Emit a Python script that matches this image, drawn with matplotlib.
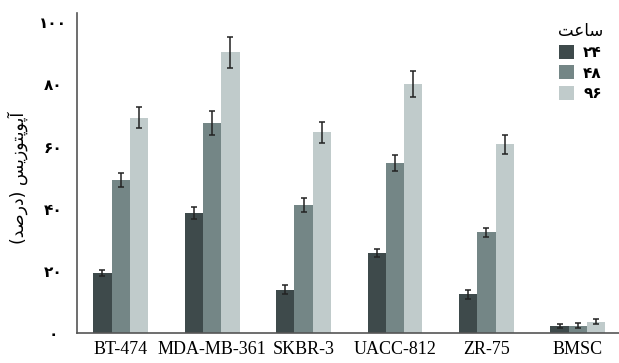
import numpy as np
import matplotlib
matplotlib.use('Agg')
import matplotlib.pyplot as plt

# cell lines and apoptosis (%) at 24 / 48 / 96 h
cells = ['BT-474', 'MDA-MB-361', 'SKBR-3', 'UACC-812', 'ZR-75', 'BMSC']
h24 = [19.3, 38.7, 14.0, 25.8, 12.5, 2.2]
h48 = [49.2, 67.6, 41.2, 54.6, 32.4, 2.4]
h96 = [69.3, 90.4, 64.6, 80.1, 60.7, 3.6]
e24 = [0.9, 2.0, 1.3, 1.4, 1.5, 0.7]
e48 = [2.3, 3.9, 2.4, 2.6, 1.4, 0.7]
e96 = [3.4, 5.0, 3.3, 4.2, 3.0, 0.8]

# Persian labels (written in visual order with presentation forms)
hours = ['\u06F2\u06F4', '\u06F4\u06F8', '\u06F9\u06F6']
yticks = [0, 20, 40, 60, 80, 100]
yticklabels = ['\u06F0', '\u06F2\u06F0', '\u06F4\u06F0', '\u06F6\u06F0', '\u06F8\u06F0', '\u06F1\u06F0\u06F0']
legend_title = '\uFE96\uFECB\uFE8E\uFEB3'
ylabel = ('(\uFEAA\uFEBB\uFEAD\uFEA9) '
          '\uFEB2\uFBFE\uFEAF\uFEEE\uFE98\uFB58\uFEEE\uFB58\uFE81')

colors = ['#3e4a4b', '#748686', '#c0cbcb']

fig = plt.figure(figsize=(6.19, 3.63), dpi=100)
ax = fig.add_axes([0.124, 0.0826, 0.876, 0.8815])

x = np.arange(len(cells))
w = 0.2
series = [(h24, e24), (h48, e48), (h96, e96)]
for i, (vals, errs) in enumerate(series):
    ax.bar(x + (i - 1) * w, vals, w, yerr=errs, color=colors[i], label=hours[i],
           error_kw=dict(ecolor='#222222', elinewidth=1.1, capsize=2.3, capthick=1.1))

ax.set_xlim(-0.48, 5.45)
ax.set_ylim(0, 103)
ax.set_xticks(x)
ax.set_xticklabels(cells, family='Liberation Serif', fontsize=13)
ax.set_yticks(yticks)
ax.set_yticklabels(yticklabels, family='DejaVu Sans', fontsize=11, fontweight='bold', ha='center')
ax.tick_params(axis='y', length=0, pad=17)
ax.tick_params(axis='x', length=0, pad=6)

for s in ['top', 'right']:
    ax.spines[s].set_visible(False)
for s in ['left', 'bottom']:
    ax.spines[s].set_color('#555555')
    ax.spines[s].set_linewidth(1.2)

fig.text(18 / 619, 1 - 178 / 363, ylabel, rotation=90, ha='center', va='center',
         family='DejaVu Sans', fontsize=12.5)

leg = ax.legend(title=legend_title, loc='upper left', bbox_to_anchor=(547 / 619, 1 - 11 / 363),
                bbox_transform=fig.transFigure, frameon=False, handlelength=1.0, handleheight=1.0,
                handletextpad=0.6, labelspacing=0.35, borderpad=0.2,
                prop=dict(family='DejaVu Sans', size=11, weight='bold'),
                title_fontproperties=dict(family='DejaVu Sans', size=12))

fig.savefig('out.png', dpi=100)
